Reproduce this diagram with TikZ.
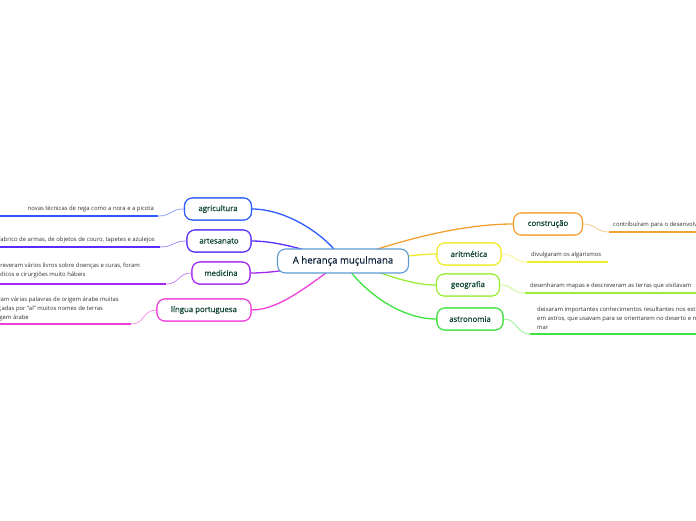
\documentclass[tikz,border=0pt]{standalone}
\usepackage{fontspec}
\setmainfont{Open Sans}
\newfontfamily\labelfont{Open Sans}[FakeBold=0.6]
\definecolor{cblue}{HTML}{2D5BFF}
\definecolor{cindigo}{HTML}{5A2DFF}
\definecolor{cpurple}{HTML}{A626F2}
\definecolor{cpink}{HTML}{F03FD8}
\definecolor{corange}{HTML}{F5A033}
\definecolor{cyellow}{HTML}{EEEC28}
\definecolor{cygreen}{HTML}{9AEE35}
\definecolor{cgreen}{HTML}{3EE33E}
\definecolor{ccentral}{HTML}{5B9BD5}
\definecolor{labeltext}{HTML}{0F4535}
\definecolor{centraltext}{HTML}{10223A}
\definecolor{leaftext}{HTML}{333333}
\tikzset{
  central/.style={draw=ccentral, line width=1.1pt, fill=white, rounded corners=8pt,
    minimum width=131pt, minimum height=24pt, inner sep=0pt, text=centraltext,
    font=\labelfont\fontsize{9.6}{11}\selectfont},
  branch/.style={draw=#1, line width=1.1pt, fill=white, rounded corners=8pt,
    minimum height=22pt, inner sep=0pt, text=labeltext,
    font=\labelfont\fontsize{7.8}{9}\selectfont},
  leaf/.style={text=leaftext, inner sep=0pt, align=left,
    font=\fontsize{5.9}{9.2}\selectfont},
  maincon/.style={draw=#1, line width=1.3pt},
  leafcon/.style={draw=#1!55, line width=0.8pt},
  uline/.style={draw=#1, line width=1.8pt}
}
\begin{document}
\begin{tikzpicture}[x=1pt,y=-1pt]
\useasboundingbox (0,0) rectangle (696,520);
\clip (0,0) rectangle (696,520);
\fill[white] (0,0) rectangle (696,520);

\coordinate (cc) at (343,261);

% branch nodes
\node[branch=cblue, minimum width=67pt] (agri) at (218,209) {agricultura};
\node[branch=cindigo, minimum width=64pt] (arte) at (219,241) {artesanato};
\node[branch=cpurple, minimum width=58pt] (medi) at (221,273) {medicina};
\node[branch=cpink, minimum width=94pt] (ling) at (204,310) {língua portuguesa};
\node[branch=corange, minimum width=69pt] (cons) at (548,224) {construção};
\node[branch=cyellow, minimum width=64pt] (arit) at (469,254) {aritmética};
\node[branch=cygreen, minimum width=63pt] (geog) at (468,285) {geografia};
\node[branch=cgreen, minimum width=66pt] (astr) at (470,319) {astronomia};

% main connectors
\path[maincon=cblue] (agri.east) .. controls +(35,0) and +(-15,-25) .. (cc);
\path[maincon=cindigo] (arte.east) .. controls +(30,0) and +(-30,-8) .. (cc);
\path[maincon=cpurple] (medi.east) .. controls +(30,0) and +(-40,5) .. (cc);
\path[maincon=cpink] (ling.east) .. controls +(30,0) and +(-30,20) .. (cc);
\path[maincon=corange] (cons.west) .. controls +(-60,0) and +(40,-15) .. (cc);
\path[maincon=cyellow] (arit.west) .. controls +(-25,0) and +(40,0) .. (cc);
\path[maincon=cygreen] (geog.west) .. controls +(-30,0) and +(30,8) .. (cc);
\path[maincon=cgreen] (astr.west) .. controls +(-40,0) and +(15,25) .. (cc);

% central node
\node[central] (cen) at (343,261) {A herança muçulmana};

% redraw branch nodes on top of connectors
\node[branch=cblue, minimum width=67pt] at (agri) {agricultura};
\node[branch=cindigo, minimum width=64pt] at (arte) {artesanato};
\node[branch=cpurple, minimum width=58pt] at (medi) {medicina};
\node[branch=cpink, minimum width=94pt] at (ling) {língua portuguesa};
\node[branch=corange, minimum width=69pt] at (cons) {construção};
\node[branch=cyellow, minimum width=64pt] at (arit) {aritmética};
\node[branch=cygreen, minimum width=63pt] at (geog) {geografia};
\node[branch=cgreen, minimum width=66pt] at (astr) {astronomia};

% leaf underline endpoints
\coordinate (agriU) at (158,216);  \coordinate (agriE) at (0,216);
\coordinate (arteU) at (160,247);  \coordinate (arteE) at (0,247);
\coordinate (mediU) at (166,284);  \coordinate (mediE) at (0,284);
\coordinate (lingU) at (131,324);  \coordinate (lingE) at (0,324);
\coordinate (consU) at (609,232);  \coordinate (consE) at (696,232);
\coordinate (aritU) at (527,262);  \coordinate (aritE) at (608,262);
\coordinate (geogU) at (525,293);  \coordinate (geogE) at (696,293);
\coordinate (astrU) at (530,334);  \coordinate (astrE) at (696,334);

% leaf connectors
\path[leafcon=cblue] (agri.west) .. controls +(-14,0) and +(14,0) .. (agriU);
\path[uline=cblue] (agriU) -- (agriE);
\path[leafcon=cindigo] (arte.west) .. controls +(-14,0) and +(14,0) .. (arteU);
\path[uline=cindigo] (arteU) -- (arteE);
\path[leafcon=cpurple] (medi.west) .. controls +(-14,0) and +(14,0) .. (mediU);
\path[uline=cpurple] (mediU) -- (mediE);
\path[leafcon=cpink] (ling.west) .. controls +(-14,0) and +(14,0) .. (lingU);
\path[uline=cpink] (lingU) -- (lingE);
\path[leafcon=corange] (cons.east) .. controls +(14,0) and +(-14,0) .. (consU);
\path[uline=corange] (consU) -- (consE);
\path[leafcon=cyellow] (arit.east) .. controls +(14,0) and +(-14,0) .. (aritU);
\path[uline=cyellow] (aritU) -- (aritE);
\path[leafcon=cygreen] (geog.east) .. controls +(14,0) and +(-14,0) .. (geogU);
\path[uline=cygreen] (geogU) -- (geogE);
\path[leafcon=cgreen] (astr.east) .. controls +(14,0) and +(-14,0) .. (astrU);
\path[uline=cgreen] (astrU) -- (astrE);

% leaf texts
\node[leaf, anchor=east] (agriT) at (154,209) {novas técnicas de rega como a nora e a picota};
\node[leaf, anchor=east] (arteT) at (155,240) {fabrico de armas, de objetos de couro, tapetes e azulejos};
\node[leaf, anchor=north east] (mediT) at (140,263) {escreveram vários livros sobre doenças e curas, foram\\médicos e cirurgiões muito hábeis};
\node[leaf, anchor=north east] (lingT) at (119,296.5) {deixaram várias palavras de origem árabe muitas\\começadas por “al” muitos nomes de terras\\de origem árabe};
\node[leaf, anchor=west] (consT) at (613,225) {contribuíram para o desenvolvimento da arquitetura};
\node[leaf, anchor=west] (aritT) at (531,255) {divulgaram os algarismos};
\node[leaf, anchor=west] (geogT) at (530,286) {desenharam mapas e descreveram as terras que visitavam};
\node[leaf, anchor=north west] (astrT) at (537,306.5) {deixaram importantes conhecimentos resultantes nos estudos feitos\\em astros, que usavam para se orientarem no deserto e no\\mar};
\end{tikzpicture}
\end{document}
